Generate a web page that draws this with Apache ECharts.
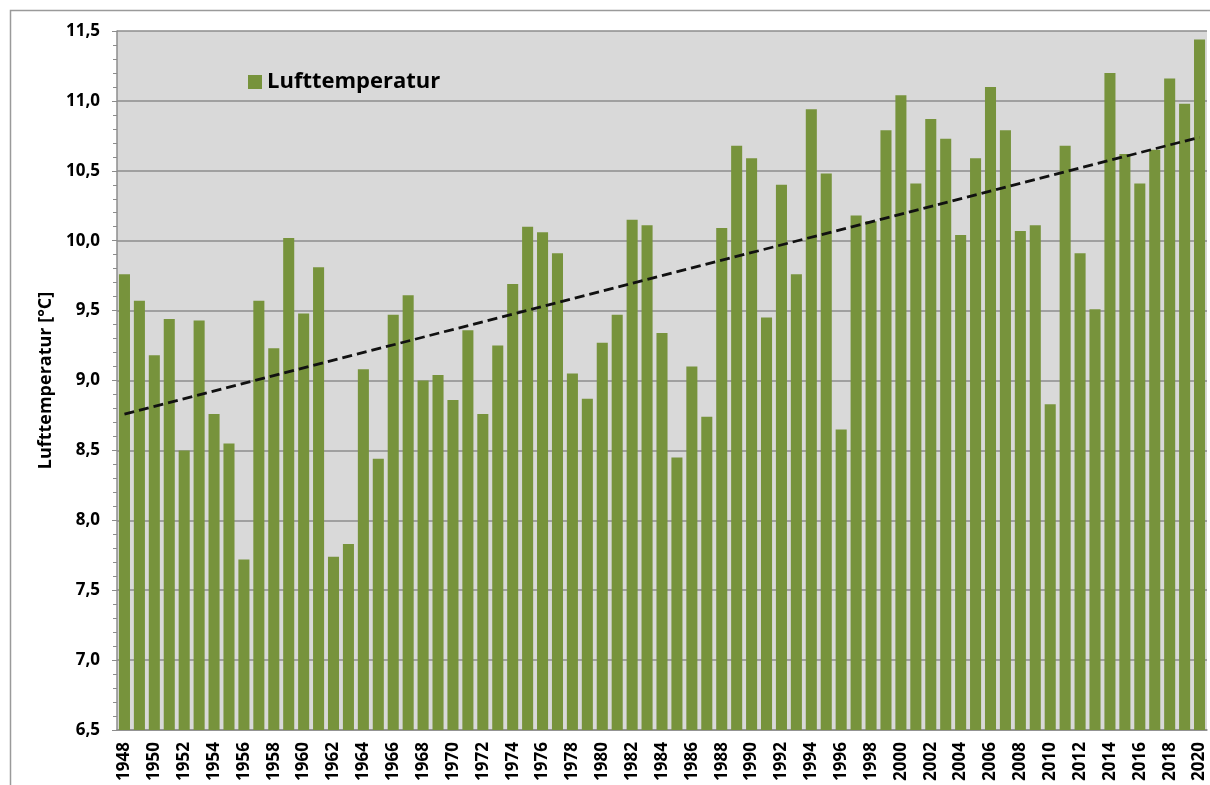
<!DOCTYPE html>
<html>
<head>
<meta charset="utf-8">
<script src="https://cdn.jsdelivr.net/npm/echarts@6/dist/echarts.min.js"></script>
<style>
  html, body { margin: 0; padding: 0; background: #fff; }
  #chart { width: 1210px; height: 785px; }
</style>
</head>
<body>
<div id="chart"></div>
<script>
// Jahresmittel der Lufttemperatur
const years = ['1948','1949','1950','1951','1952','1953','1954','1955','1956','1957',
  '1958','1959','1960','1961','1962','1963','1964','1965','1966','1967',
  '1968','1969','1970','1971','1972','1973','1974','1975','1976','1977',
  '1978','1979','1980','1981','1982','1983','1984','1985','1986','1987',
  '1988','1989','1990','1991','1992','1993','1994','1995','1996','1997',
  '1998','1999','2000','2001','2002','2003','2004','2005','2006','2007',
  '2008','2009','2010','2011','2012','2013','2014','2015','2016','2017',
  '2018','2019','2020']
const temps = [9.76, 9.57, 9.18, 9.44, 8.50, 9.43, 8.76, 8.55, 7.72, 9.57,
  9.23, 10.02, 9.48, 9.81, 7.74, 7.83, 9.08, 8.44, 9.47, 9.61,
  9.00, 9.04, 8.86, 9.36, 8.76, 9.25, 9.69, 10.10, 10.06, 9.91,
  9.05, 8.87, 9.27, 9.47, 10.15, 10.11, 9.34, 8.45, 9.10, 8.74,
  10.09, 10.68, 10.59, 9.45, 10.40, 9.76, 10.94, 10.48, 8.65, 10.18,
  10.14, 10.79, 11.04, 10.41, 10.87, 10.73, 10.04, 10.59, 11.10, 10.79,
  10.07, 10.11, 8.83, 10.68, 9.91, 9.51, 11.20, 10.62, 10.41, 10.65,
  11.16, 10.98, 11.44]
// Trendlinie: Werte am Anfang (1948) und Ende (2020)
const trendEnds = [8.76, 10.74]
const yTicks = { min: 6.5, max: 11.5, step: 0.5 }

const fontFamily = '"Open Sans", "DejaVu Sans", sans-serif'

// Trend als Linie nur mit Anfangs- und Endpunkt
const trendData = years.map((y, i) => {
  if (i === 0) return trendEnds[0]
  if (i === years.length - 1) return trendEnds[1]
  return null
})

const chart = echarts.init(document.getElementById('chart'))
chart.setOption({
  animation: false,
  textStyle: { fontFamily },
  graphic: [{
    type: 'rect',
    shape: { x: 10.5, y: 10.5, width: 1230, height: 800 },
    style: { fill: 'none', stroke: '#9a9a9a', lineWidth: 1.5 },
    silent: true
  }],
  legend: {
    data: ['Lufttemperatur'],
    left: 243,
    top: 66,
    itemWidth: 14,
    itemHeight: 14,
    itemGap: 6,
    icon: 'rect',
    textStyle: { fontFamily, fontSize: 22, fontWeight: 'bold', color: '#000' }
  },
  grid: {
    left: 117,
    right: 3,
    top: 31,
    bottom: 55,
    show: true,
    backgroundColor: '#d9d9d9',
    borderWidth: 0
  },
  xAxis: {
    type: 'category',
    data: years,
    axisLine: { lineStyle: { color: '#8c8c8c', width: 1.5 } },
    axisTick: { show: false },
    axisLabel: {
      interval: 1,
      rotate: 90,
      margin: 12,
      color: '#000',
      fontFamily,
      fontSize: 17,
      fontWeight: 'bold'
    }
  },
  yAxis: {
    type: 'value',
    min: yTicks.min,
    max: yTicks.max,
    interval: yTicks.step,
    name: 'Lufttemperatur [°C]',
    nameLocation: 'middle',
    nameGap: 62,
    nameTextStyle: { color: '#000', fontFamily, fontSize: 18, fontWeight: 'bold' },
    axisLine: { show: true, lineStyle: { color: '#8c8c8c', width: 1.5 } },
    axisTick: { show: true, length: 5, lineStyle: { color: '#8c8c8c' } },
    minorTick: { show: true, splitNumber: 5, length: 4, lineStyle: { color: '#8c8c8c' } },
    splitLine: { lineStyle: { color: '#8c8c8c', width: 1.5 } },
    axisLabel: {
      margin: 17,
      color: '#000',
      fontFamily,
      fontSize: 17,
      fontWeight: 'bold',
      formatter: v => v.toFixed(1).replace('.', ',')
    }
  },
  series: [
    {
      name: 'Lufttemperatur',
      type: 'bar',
      data: temps,
      barCategoryGap: '26%',
      itemStyle: { color: '#77933c' }
    },
    {
      name: 'Trend',
      type: 'line',
      data: trendData,
      connectNulls: true,
      symbol: 'none',
      z: 5,
      lineStyle: { color: '#111', width: 2.8, type: [10, 5] }
    }
  ]
})
</script>
</body>
</html>
